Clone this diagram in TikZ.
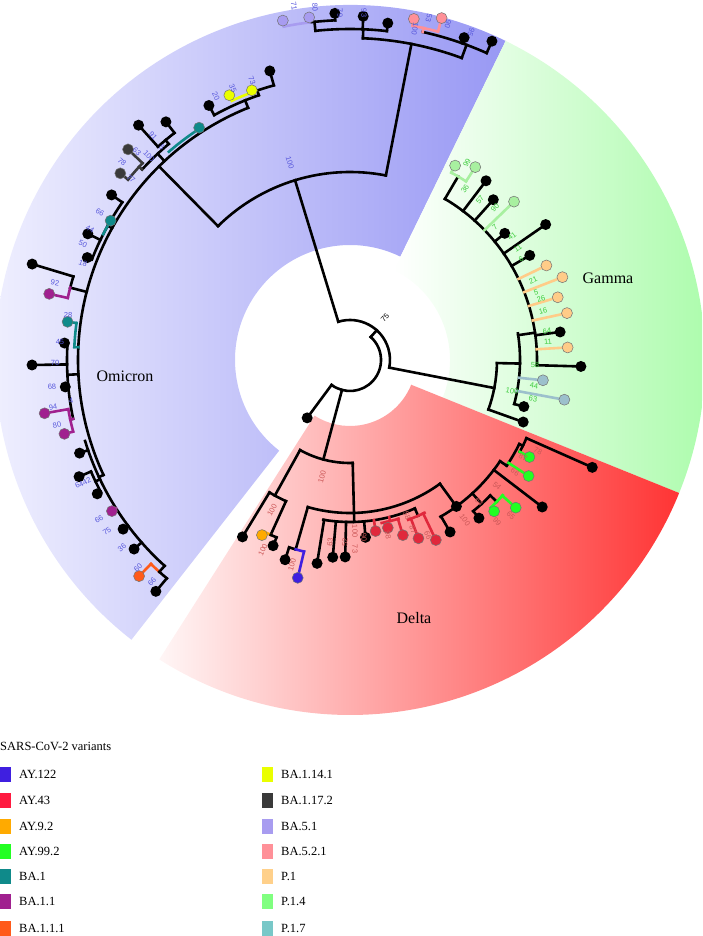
\documentclass[tikz,border=0pt]{standalone}
\usepackage{fontspec}
\setmainfont{Liberation Serif}
\newfontfamily\lblsans{Liberation Sans}
\definecolor{omL}{HTML}{F5F5FF}
\definecolor{omR}{HTML}{9898F4}
\definecolor{gaL}{HTML}{FFFFFF}
\definecolor{gaR}{HTML}{A2FBA2}
\definecolor{deL}{HTML}{FFF6F6}
\definecolor{deR}{HTML}{FF3434}
\definecolor{cAYa}{HTML}{3F1FE0}
\definecolor{cAYb}{HTML}{FF1A40}
\definecolor{cAYc}{HTML}{FFAA00}
\definecolor{cAYd}{HTML}{22FF22}
\definecolor{cBAa}{HTML}{0F8A8A}
\definecolor{cBAb}{HTML}{A0208F}
\definecolor{cBAc}{HTML}{FF5A1A}
\definecolor{cBAd}{HTML}{EAFF00}
\definecolor{cBAe}{HTML}{3A3A3A}
\definecolor{cBAf}{HTML}{A89CF0}
\definecolor{cBAg}{HTML}{FF9098}
\definecolor{cPa}{HTML}{FFD08A}
\definecolor{cPb}{HTML}{80FF80}
\definecolor{cPc}{HTML}{78C8C8}
\definecolor{tAYb}{HTML}{E0283C}
\definecolor{tPa}{HTML}{FFCC88}
\definecolor{tPb}{HTML}{A8F0A0}
\definecolor{tPc}{HTML}{9CC0CC}
\definecolor{lbO}{HTML}{5858DC}
\definecolor{lbG}{HTML}{3CCC3C}
\definecolor{lbD}{HTML}{CC5858}
\newcounter{lbc}
\newcounter{lgc}
\tikzset{
  br/.style={line width=2.6pt, line cap=rect, line join=miter, draw=black},
  lab/.style={font=\lblsans\fontsize{7.5}{8}\selectfont, inner sep=0pt},
  clade/.style={font=\fontsize{16}{18}\selectfont, inner sep=0pt},
  legtxt/.style={font=\fontsize{12.5}{14}\selectfont, inner sep=0pt, anchor=west},
  cdot/.style={draw=black!55, line width=0.5pt}
}
\newcommand\Tarc[3]{\draw[br] (#2:#1) arc[start angle=#2,end angle=#3,radius=#1];}
\newcommand\Tcarc[4]{\draw[br,draw=#4] (#2:#1) arc[start angle=#2,end angle=#3,radius=#1];}
\newcommand\Trad[3]{\draw[br] (#1:#2) -- (#1:#3);}
\newcommand\Tcrad[4]{\draw[br,draw=#4] (#1:#2) -- (#1:#3);}
\newcommand\Tleaf[3]{\draw[br] (#1:#2) -- (#1:#3); \fill[black] (#1:#3) circle[radius=5.5];}
\newcommand\Tcleaf[4]{\draw[br,draw=#4] (#1:#2) -- (#1:#3); \filldraw[cdot,fill=#4] (#1:#3) circle[radius=5.5];}
\newcommand\Tdot[2]{\fill[black] (#1:#2) circle[radius=5.5];}
\newcommand\Tcdot[3]{\filldraw[cdot,fill=#3] (#1:#2) circle[radius=5.5];}
\newcommand\Tlab[5]{\stepcounter{lbc}\node[lab,text=#4,rotate=#5] (lab\arabic{lbc}) at (#1,-#2) {#3};}
\newcommand\Tleg[4]{\stepcounter{lgc}\fill[#4] (#1,-#2+7.5) rectangle (#1+11,-#2-7.5);
  \node[legtxt] (leg\arabic{lgc}) at (#1+19,-#2) {#3};}
\begin{document}
\begin{tikzpicture}[x=1pt,y=1pt]
\useasboundingbox (0,0) rectangle (702,-936);
\clip (0,0) rectangle (702,-936);
\begin{scope}[shift={(350,-360)}]
% sectors
\shade[left color=omL, right color=omR] (64:115) -- (64:355) arc[start angle=64,end angle=232,radius=355] -- (232:115) arc[start angle=232,end angle=64,radius=115] -- cycle;
\shade[left color=gaL, right color=gaR] (-22:100) -- (-22:355) arc[start angle=-22,end angle=64,radius=355] -- (64:100) arc[start angle=64,end angle=-22,radius=100] -- cycle;
\shade[left color=deL, right color=deR] (237.5:66) -- (237.5:355) arc[start angle=237.5,end angle=338,radius=355] -- (338:66) arc[start angle=338,end angle=237.5,radius=66] -- cycle;
% root
\Tarc{31}{48}{-126.5}
\Trad{48}{31}{40}
\Tarc{40}{107}{-11}
\Tleaf{-126.5}{31}{72}
\Trad{-105}{31}{103}
\Trad{107}{40}{188}
\Trad{-11}{40}{147}
% Omicron
\Tarc{188}{134.6}{79}
\Trad{134.6}{188}{272}
\Trad{79}{188}{322}
\Tarc{272}{112}{205}
\Trad{112}{272}{280}
\Tarc{280}{119}{109}
\Tleaf{119}{280}{291}
\Trad{109}{280}{285}
\Tcarc{285}{114.5}{109}{cBAd}
\Tarc{285}{109}{105.5}
\Tcleaf{114.5}{285}{291}{cBAd}
\Tleaf{105.5}{285}{300}
\Tcdot{110}{287}{cBAd}
\Tcarc{276}{131}{123}{cBAa}
\Tcdot{123}{277}{cBAa}
\Trad{133}{272}{282}
\Tarc{282}{130}{137.5}
\Trad{130}{282}{287}
\Tarc{287}{127.7}{132}
\Tleaf{132}{287}{316}
\Tleaf{127.7}{287}{301}
\Tcrad{137.5}{282}{286}{cBAe}
\Tcarc{286}{136.5}{140.9}{cBAe}
\Tcleaf{136.5}{286}{306}{cBAe}
\Tcleaf{140.9}{286}{296}{cBAe}
\Trad{151}{272}{277}
\Tarc{277}{145.3}{158.7}
\Tleaf{145.3}{277}{290}
\Tcarc{277}{149.8}{153}{cBAa}
\Tleaf{154.3}{277}{291}
\Tleaf{158.7}{277}{282}
\Tcdot{149.8}{277}{cBAa}
\Trad{165.5}{272}{289}
\Tarc{289}{163.2}{165.5}
\Tcarc{289}{165.5}{167.6}{cBAb}
\Tleaf{163.2}{289}{332}
\Tcleaf{167.6}{289}{308}{cBAb}
\Tcrad{177.3}{272}{276}{cBAa}
\Tcarc{276}{172.3}{177.3}{cBAa}
\Tcleaf{172.3}{276}{285}{cBAa}
\Trad{183}{272}{283}
\Tarc{283}{176.6}{192}
\Tleaf{176.6}{283}{286}
\Tleaf{180.9}{283}{318}
\Tleaf{185.4}{283}{286}
\Tcrad{192}{283}{286}{cBAb}
\Tcarc{286}{189.9}{194.5}{cBAb}
\Tcleaf{189.9}{286}{310}{cBAb}
\Tcleaf{194.5}{286}{295}{cBAb}
\Trad{205}{272}{277}
\Tarc{277}{197}{228}
\Tleaf{199}{277}{286}
\Trad{205.5}{277}{282}
\Tarc{282}{203.3}{207.9}
\Tleaf{203.3}{282}{295}
\Tleaf{207.9}{282}{286}
\Tcleaf{212.4}{277}{282}{cBAb}
\Tleaf{216.7}{277}{283}
\Tleaf{221.2}{277}{287}
\Trad{228}{277}{285}
\Tcarc{285}{225.7}{228}{cBAc}
\Tarc{285}{228}{230}
\Tcleaf{225.7}{285}{302}{cBAc}
\Tleaf{230}{285}{302}
% BA.5
\Tarc{322}{87.7}{69.7}
\Trad{87.7}{322}{331}
\Tarc{331}{83.6}{96}
\Tleaf{83.6}{331}{339}
\Tleaf{87.8}{331}{344}
\Trad{96}{331}{340}
\Tarc{340}{92.5}{97}
\Tcarc{340}{97}{101.2}{cBAf}
\Tleaf{92.5}{340}{347}
\Tcleaf{96.8}{340}{345}{cBAf}
\Tcleaf{101.2}{340}{346}{cBAf}
\Trad{69.7}{322}{336}
\Tarc{336}{66}{77.5}
\Tleaf{70.5}{336}{342}
\Tleaf{66}{336}{349}
\Tcrad{77.5}{336}{340}{cBAg}
\Tcarc{340}{75}{79.4}{cBAg}
\Tcleaf{79.4}{340}{347}{cBAg}
\Tcleaf{75}{340}{354}{cBAg}
% Gamma
\Tarc{147}{-1.2}{-19.7}
\Tleaf{-19.7}{147}{184}
\Trad{-1.2}{147}{170}
\Tarc{170}{9}{-15}
\Tleaf{-15}{170}{180}
\Tcleaf{-6}{170}{194}{tPc}
\Tcleaf{-10.5}{170}{218}{tPc}
\Trad{8.4}{170}{187}
\Tarc{187}{59.5}{-1.6}
\Tleaf{-1.6}{187}{231}
\Tcleaf{3.3}{187}{218}{tPa}
\Tleaf{7.6}{187}{212}
\Tcleaf{12.2}{187}{222}{tPa}
\Tcleaf{16.8}{187}{217}{tPa}
\Tcleaf{21.3}{187}{228}{tPa}
\Tcleaf{25.7}{187}{218}{tPa}
\Tleaf{30.2}{187}{208}
\Tleaf{34.7}{187}{238}
\Tleaf{39.3}{187}{200}
\Tcleaf{44}{187}{228}{tPb}
\Tleaf{48.2}{187}{215}
\Tleaf{52.8}{187}{225}
\Trad{59.5}{187}{213}
\Tcarc{213}{57}{61.6}{tPb}
\Tcleaf{61.6}{213}{221}{tPb}
\Tcleaf{57}{213}{230}{tPb}
% Delta
\Tarc{103}{241}{271.5}
\Trad{241}{103}{155}
\Tarc{155}{238.7}{245.6}
\Tleaf{238.7}{155}{207}
\Trad{245.6}{155}{192}
\Tcarc{192}{243.3}{245.6}{cAYc}
\Tarc{192}{245.6}{247.5}
\Tcleaf{243.3}{192}{196}{cAYc}
\Tleaf{247.5}{192}{201}
\Trad{271.5}{103}{162}
\Tarc{153}{254}{306}
\Trad{254}{153}{197}
\Tarc{197}{252}{254}
\Tcarc{197}{254}{256.5}{cAYa}
\Tleaf{252}{197}{210}
\Tcleaf{256.5}{197}{224}{cAYa}
\Tarc{162}{260.5}{293.6}
\Tleaf{260.8}{162}{206}
\Tleaf{265}{162}{198}
\Tleaf{268.6}{162}{197}
\Tleaf{275}{162}{178}
\Tcleaf{278.5}{162}{173}{tAYb}
\Tcrad{284}{162}{166}{tAYb}
\Tcarc{166}{281}{287}{tAYb}
\Tcleaf{282.7}{166}{172}{tAYb}
\Tcleaf{286.8}{166}{183}{tAYb}
\Trad{293.6}{162}{170}
\Tcarc{170}{290}{296}{tAYb}
\Tcleaf{291}{170}{191}{tAYb}
\Tcleaf{295.5}{170}{199.5}{tAYb}
\Trad{306}{153}{181}
\Tarc{181}{300}{326}
\Tleaf{300.2}{181}{199}
\Trad{312.5}{181}{195}
\Tarc{195}{309.2}{316}
\Tleaf{309.2}{195}{204}
\Trad{316}{195}{204}
\Tcarc{204}{313.6}{318.5}{cAYd}
\Tcleaf{313.6}{204}{209}{cAYd}
\Tcleaf{318.3}{204}{222}{cAYd}
\Tleaf{322.6}{181}{242}
\Trad{326}{181}{189}
\Tarc{189}{326}{333.6}
\Tcleaf{327}{189}{213}{cAYd}
\Trad{333.6}{189}{193}
\Tarc{193}{331.6}{336.1}
\Tcleaf{331.6}{193}{204}{cAYd}
\Tleaf{336.1}{193}{265}
\Tdot{306}{181}
\end{scope}
% bootstrap labels
\Tlab{385}{318}{75}{black}{48}
\Tlab{290}{163}{100}{lbO}{-73}
\Tlab{252}{81}{73}{lbO}{-70}
\Tlab{233}{88}{35}{lbO}{-67}
\Tlab{216}{96}{20}{lbO}{-63}
\Tlab{153}{136}{91}{lbO}{-48}
\Tlab{162}{147}{5}{lbO}{-48}
\Tlab{149}{156}{100}{lbO}{-45}
\Tlab{137}{152}{63}{lbO}{-44}
\Tlab{122}{162}{78}{lbO}{-41}
\Tlab{131}{179}{77}{lbO}{-40}
\Tlab{100}{212}{66}{lbO}{-30}
\Tlab{90}{229}{44}{lbO}{-27}
\Tlab{83}{244}{50}{lbO}{-23}
\Tlab{83}{263}{18}{lbO}{-20}
\Tlab{55}{283}{92}{lbO}{-10}
\Tlab{68}{315}{28}{lbO}{-5}
\Tlab{60}{342}{45}{lbO}{0}
\Tlab{55}{363}{70}{lbO}{0}
\Tlab{52}{387}{68}{lbO}{5}
\Tlab{71}{401}{4}{lbO}{8}
\Tlab{53}{407}{94}{lbO}{9}
\Tlab{57}{425}{80}{lbO}{12}
\Tlab{83}{483}{6442}{lbO}{25}
\Tlab{99}{519}{66}{lbO}{33}
\Tlab{107}{531}{75}{lbO}{35}
\Tlab{122}{548}{36}{lbO}{40}
\Tlab{138}{568}{60}{lbO}{45}
\Tlab{152}{582}{66}{lbO}{48}
\Tlab{294}{6}{71}{lbO}{-81}
\Tlab{315}{7}{80}{lbO}{-84}
\Tlab{340}{13}{79}{lbO}{-88}
\Tlab{364}{13}{93}{lbO}{-88}
\Tlab{415}{29}{100}{lbO}{-101}
\Tlab{429}{18}{53}{lbO}{-103}
\Tlab{448}{24}{90}{lbO}{-106}
\Tlab{471}{32}{95}{lbO}{-110}
\Tlab{467}{163}{99}{lbG}{59}
\Tlab{465}{189}{36}{lbG}{56}
\Tlab{480}{200}{57}{lbG}{51}
\Tlab{495}{208}{90}{lbG}{46}
\Tlab{495}{227}{7}{lbG}{42}
\Tlab{512}{236}{41}{lbG}{37}
\Tlab{518}{248}{11}{lbG}{34}
\Tlab{521}{259}{6}{lbG}{31}
\Tlab{533}{280}{21}{lbG}{24}
\Tlab{536}{292}{5}{lbG}{18}
\Tlab{541}{299}{26}{lbG}{18}
\Tlab{543}{311}{16}{lbG}{14}
\Tlab{547}{331}{64}{lbG}{8}
\Tlab{548}{342}{11}{lbG}{5}
\Tlab{535}{365}{58}{lbG}{-2}
\Tlab{534}{386}{44}{lbG}{-8}
\Tlab{512}{391}{100}{lbG}{-10}
\Tlab{533}{399}{63}{lbG}{-11}
\Tlab{322}{477}{100}{lbD}{76}
\Tlab{272}{510}{100}{lbD}{62}
\Tlab{263}{550}{100}{lbD}{65}
\Tlab{292}{565}{100}{lbD}{74}
\Tlab{330}{542}{63}{lbD}{84}
\Tlab{345}{542}{52}{lbD}{88}
\Tlab{355}{531}{100}{lbD}{-88}
\Tlab{364}{537}{90}{lbD}{-86}
\Tlab{355}{549}{73}{lbD}{-88}
\Tlab{407}{516}{58}{lbD}{-70}
\Tlab{388}{535}{98}{lbD}{-78}
\Tlab{413}{530}{87}{lbD}{-70}
\Tlab{428}{535}{66}{lbD}{-66}
\Tlab{465}{520}{100}{lbD}{-54}
\Tlab{479}{502}{64}{lbD}{-48}
\Tlab{497}{522}{99}{lbD}{-47}
\Tlab{511}{516}{65}{lbD}{-44}
\Tlab{497}{486}{54}{lbD}{-41}
\Tlab{515}{472}{66}{lbD}{-34}
\Tlab{523}{457}{87}{lbD}{-29}
\Tlab{538}{451}{78}{lbD}{-26}
% clade names
\node[clade] (omicron) at (125,-376) {Omicron};
\node[clade] (gamma) at (608,-278) {Gamma};
\node[clade] (delta) at (414,-618) {Delta};
% legend
\node[legtxt] (legtitle) at (0,-746) {SARS-CoV-2 variants};
\Tleg{0}{774.5}{AY.122}{cAYa}
\Tleg{0}{800.5}{AY.43}{cAYb}
\Tleg{0}{826}{AY.9.2}{cAYc}
\Tleg{0}{851}{AY.99.2}{cAYd}
\Tleg{0}{876.5}{BA.1}{cBAa}
\Tleg{0}{901.5}{BA.1.1}{cBAb}
\Tleg{0}{928}{BA.1.1.1}{cBAc}
\Tleg{262}{774.5}{BA.1.14.1}{cBAd}
\Tleg{262}{800.5}{BA.1.17.2}{cBAe}
\Tleg{262}{826}{BA.5.1}{cBAf}
\Tleg{262}{851}{BA.5.2.1}{cBAg}
\Tleg{262}{876.5}{P.1}{cPa}
\Tleg{262}{901.5}{P.1.4}{cPb}
\Tleg{262}{928}{P.1.7}{cPc}
\end{tikzpicture}
\end{document}
